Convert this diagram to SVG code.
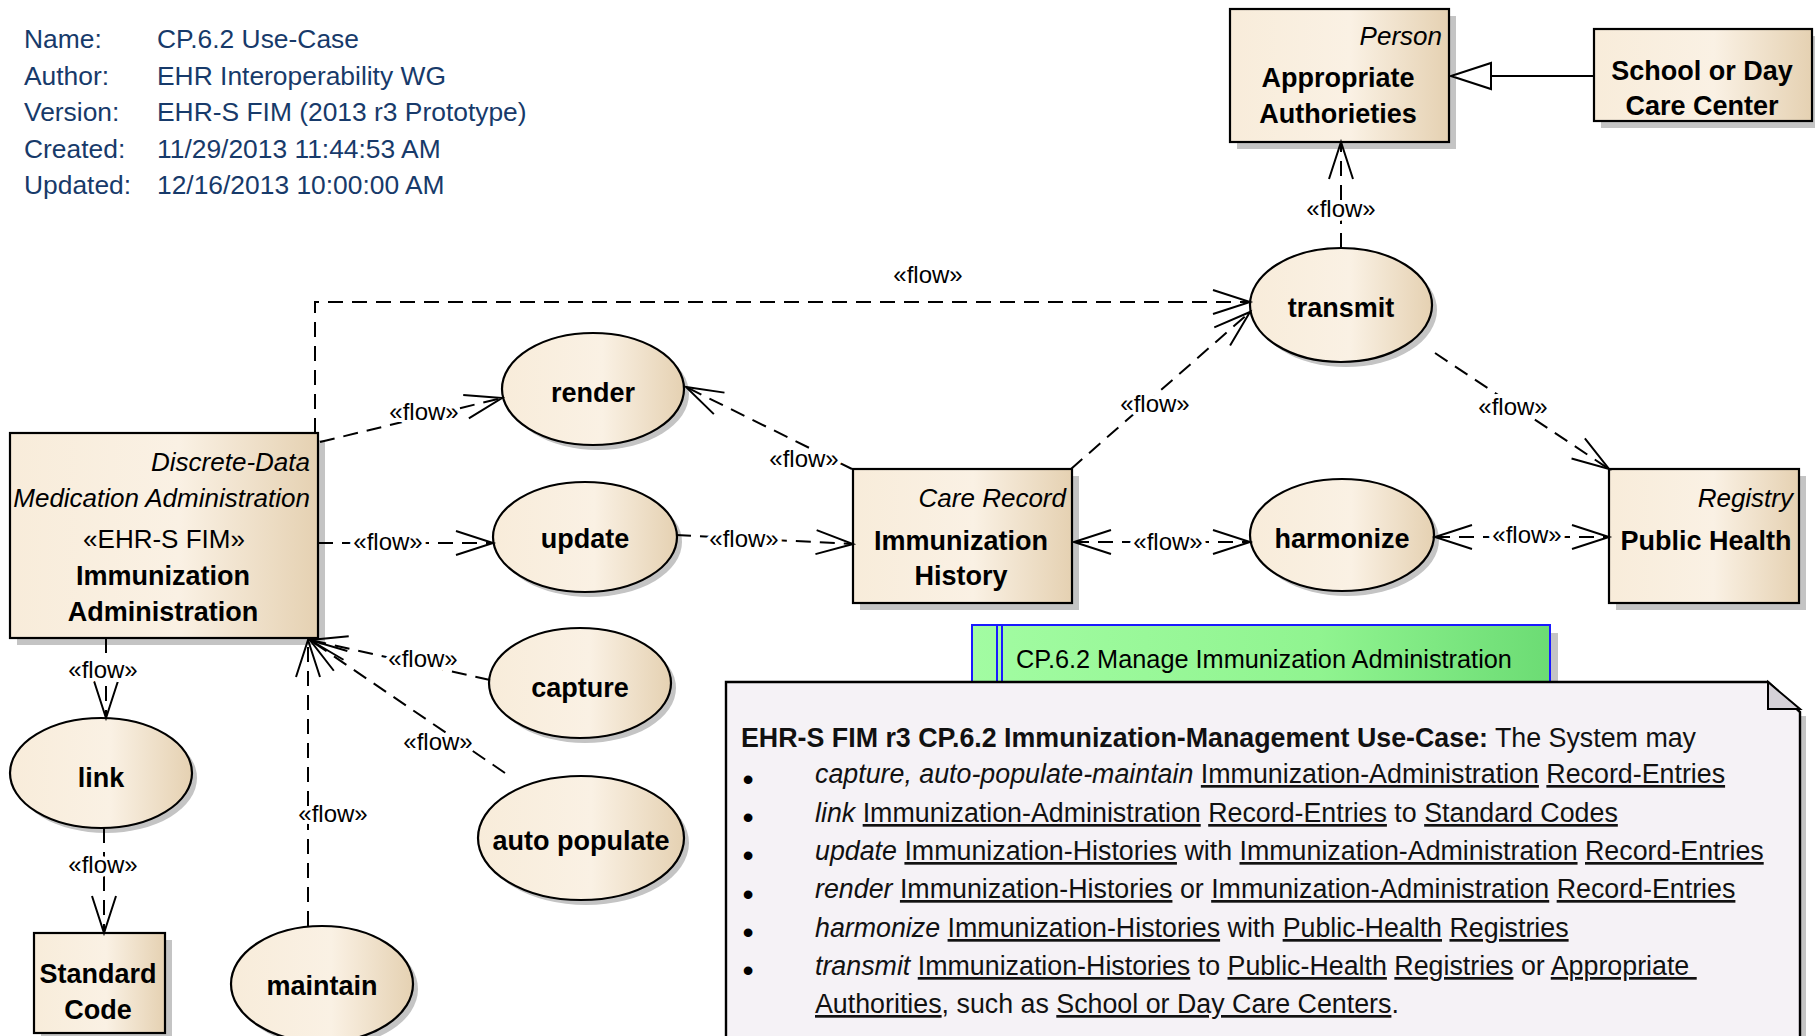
<svg xmlns="http://www.w3.org/2000/svg" width="1815" height="1036" viewBox="0 0 1815 1036">
<defs>
<linearGradient id="g" x1="0" y1="0" x2="1" y2="0">
<stop offset="0" stop-color="#F8ECDA"/>
<stop offset="0.55" stop-color="#FAF1E4"/>
<stop offset="1" stop-color="#E5D1B2"/>
</linearGradient>
<linearGradient id="gg" x1="0" y1="0" x2="1" y2="0">
<stop offset="0" stop-color="#A2FCA2"/>
<stop offset="0.6" stop-color="#90F490"/>
<stop offset="1" stop-color="#6CDC74"/>
</linearGradient>
<marker id="arr" markerUnits="userSpaceOnUse" markerWidth="50" markerHeight="40" refX="0" refY="0" orient="auto-start-reverse" overflow="visible">
<path d="M-37,-12 L0,0 L-37,12" fill="none" stroke="#000" stroke-width="2" stroke-dasharray="none"/>
</marker>
<marker id="gen" markerUnits="userSpaceOnUse" markerWidth="50" markerHeight="40" refX="0" refY="0" orient="auto" overflow="visible">
<path d="M0,0 L-40,-13 L-40,13 Z" fill="#FFFFFF" stroke="#000" stroke-width="2" stroke-dasharray="none"/>
</marker>
</defs>
<style>
.t{font-family:"Liberation Sans",Arial,sans-serif;fill:#000}
.box{fill:url(#g);stroke:#000;stroke-width:2.2}
.sh{fill:#C4C4C4}
.b{font-weight:bold;font-size:27px;text-anchor:middle}
.i{font-style:italic;font-size:26px;text-anchor:end}
.r{font-size:26px;text-anchor:middle}
.hd{font-family:"Liberation Sans",Arial,sans-serif;font-size:26.4px;fill:#173A6A}
.flow{font-family:"Liberation Sans",Arial,sans-serif;font-size:24px;text-anchor:middle;fill:#000;stroke:#fff;stroke-width:8;stroke-linejoin:round;paint-order:stroke}
.conn{fill:none;stroke:#000;stroke-width:2;stroke-dasharray:15 9}
.nt{font-family:"Liberation Sans",Arial,sans-serif;font-size:26.8px;fill:#111}
.u{text-decoration:underline}
.it{font-style:italic}
.bul{font-family:"Liberation Sans",Arial,sans-serif;font-size:32px;fill:#000;text-anchor:middle}
</style>
<rect width="1815" height="1036" fill="#fff"/>

<g id="header">
<text class="hd" x="24" y="48">Name:</text><text class="hd" x="157" y="48">CP.6.2 Use-Case</text>
<text class="hd" x="24" y="85">Author:</text><text class="hd" x="157" y="85">EHR Interoperability WG</text>
<text class="hd" x="24" y="121">Version:</text><text class="hd" x="157" y="121">EHR-S FIM (2013 r3 Prototype)</text>
<text class="hd" x="24" y="158">Created:</text><text class="hd" x="157" y="158">11/29/2013 11:44:53 AM</text>
<text class="hd" x="24" y="194">Updated:</text><text class="hd" x="157" y="194">12/16/2013 10:00:00 AM</text>
</g>

<g id="appropriate-authorities">
<rect class="sh" x="1237" y="16" width="219" height="133"/>
<rect class="box" x="1230" y="9" width="219" height="133"/>
<text class="t i" x="1442" y="45">Person</text>
<text class="t b" x="1338" y="87">Appropriate</text>
<text class="t b" x="1338" y="123">Authorieties</text>
</g>

<g id="school-day-care">
<rect class="sh" x="1601" y="36" width="218" height="92"/>
<rect class="box" x="1594" y="29" width="218" height="92"/>
<text class="t b" x="1702" y="80">School or Day</text>
<text class="t b" x="1702" y="115">Care Center</text>
</g>

<g id="transmit">
<ellipse class="sh" cx="1346" cy="310" rx="91" ry="57"/>
<ellipse class="box" cx="1341" cy="305" rx="91" ry="57"/>
<text class="t b" x="1341" y="317">transmit</text>
</g>

<g id="render">
<ellipse class="sh" cx="598" cy="394" rx="91" ry="56"/>
<ellipse class="box" cx="593" cy="389" rx="91" ry="56"/>
<text class="t b" x="593" y="402">render</text>
</g>

<g id="update">
<ellipse class="sh" cx="590" cy="542" rx="92" ry="55"/>
<ellipse class="box" cx="585" cy="537" rx="92" ry="55"/>
<text class="t b" x="585" y="548">update</text>
</g>

<g id="immunization-administration">
<rect class="sh" x="17" y="440" width="308" height="205"/>
<rect class="box" x="10" y="433" width="308" height="205"/>
<text class="t i" x="310" y="471">Discrete-Data</text>
<text class="t i" x="310" y="507">Medication Administration</text>
<text class="t r" x="164" y="548">«EHR-S FIM»</text>
<text class="t b" x="163" y="585">Immunization</text>
<text class="t b" x="163" y="621">Administration</text>
</g>

<g id="immunization-history">
<rect class="sh" x="860" y="476" width="219" height="134"/>
<rect class="box" x="853" y="469" width="219" height="134"/>
<text class="t i" x="1066" y="507">Care Record</text>
<text class="t b" x="961" y="550">Immunization</text>
<text class="t b" x="961" y="585">History</text>
</g>

<g id="harmonize">
<ellipse class="sh" cx="1347" cy="540" rx="92" ry="56"/>
<ellipse class="box" cx="1342" cy="535" rx="92" ry="56"/>
<text class="t b" x="1342" y="548">harmonize</text>
</g>

<g id="public-health">
<rect class="sh" x="1616" y="476" width="190" height="134"/>
<rect class="box" x="1609" y="469" width="190" height="134"/>
<text class="t i" x="1793" y="507">Registry</text>
<text class="t b" x="1706" y="550">Public Health</text>
</g>

<g id="capture">
<ellipse class="sh" cx="585" cy="688" rx="91" ry="55"/>
<ellipse class="box" cx="580" cy="683" rx="91" ry="55"/>
<text class="t b" x="580" y="697">capture</text>
</g>

<g id="auto-populate">
<ellipse class="sh" cx="586" cy="843" rx="103" ry="62"/>
<ellipse class="box" cx="581" cy="838" rx="103" ry="62"/>
<text class="t b" x="581" y="850">auto populate</text>
</g>

<g id="link">
<ellipse class="sh" cx="106" cy="778" rx="91" ry="55"/>
<ellipse class="box" cx="101" cy="773" rx="91" ry="55"/>
<text class="t b" x="101" y="787">link</text>
</g>

<g id="standard-code">
<rect class="sh" x="41" y="940" width="131" height="100"/>
<rect class="box" x="34" y="933" width="131" height="100"/>
<text class="t b" x="98" y="983">Standard</text>
<text class="t b" x="98" y="1019">Code</text>
</g>

<g id="maintain">
<ellipse class="sh" cx="327" cy="989" rx="91" ry="58"/>
<ellipse class="box" cx="322" cy="984" rx="91" ry="58"/>
<text class="t b" x="322" y="995">maintain</text>
</g>

<g id="cp62-tab">
<rect class="sh" x="980" y="633" width="578" height="70"/>
<rect x="972" y="625" width="578" height="75" fill="url(#gg)" stroke="#1A1AFF" stroke-width="2"/>
<line x1="997" y1="625" x2="997" y2="682" stroke="#1A1AFF" stroke-width="2"/>
<line x1="1002" y1="625" x2="1002" y2="682" stroke="#1A1AFF" stroke-width="2"/>
<text class="t" x="1016" y="668" font-size="25.3" fill="#111">CP.6.2 Manage Immunization Administration</text>
</g>

<g id="note">
<path d="M1806,716 V1040 H1800 V716 Z" fill="#C4C4C4"/>
<path d="M726,682 H1768 L1800,712 V1040 H726 Z" fill="#F5F2F6" stroke="#000" stroke-width="2.4"/>
<path d="M1768,682 V709 H1800 Z" fill="#D5D1D8" stroke="#000" stroke-width="2"/>
<text class="nt" x="741" y="747" xml:space="preserve"><tspan font-weight="bold">EHR-S FIM r3 CP.6.2 Immunization-Management Use-Case:</tspan> The System may</text>
<text class="bul" x="748" y="790">•</text>
<text class="bul" x="748" y="828">•</text>
<text class="bul" x="748" y="866">•</text>
<text class="bul" x="748" y="905">•</text>
<text class="bul" x="748" y="943">•</text>
<text class="bul" x="748" y="981">•</text>
<text class="nt" x="815" y="783" xml:space="preserve"><tspan class="it">capture, auto-populate-maintain</tspan> <tspan class="u">Immunization-Administration</tspan> <tspan class="u">Record-Entries</tspan></text>
<text class="nt" x="815" y="822" xml:space="preserve"><tspan class="it">link</tspan> <tspan class="u">Immunization-Administration</tspan> <tspan class="u">Record-Entries</tspan> to <tspan class="u">Standard Codes</tspan></text>
<text class="nt" x="815" y="860" xml:space="preserve"><tspan class="it">update</tspan> <tspan class="u">Immunization-Histories</tspan> with <tspan class="u">Immunization-Administration</tspan> <tspan class="u">Record-Entries</tspan></text>
<text class="nt" x="815" y="898" xml:space="preserve"><tspan class="it">render</tspan> <tspan class="u">Immunization-Histories</tspan> or <tspan class="u">Immunization-Administration</tspan> <tspan class="u">Record-Entries</tspan></text>
<text class="nt" x="815" y="937" xml:space="preserve"><tspan class="it">harmonize</tspan> <tspan class="u">Immunization-Histories</tspan> with <tspan class="u">Public-Health</tspan> <tspan class="u">Registries</tspan></text>
<text class="nt" x="815" y="975" xml:space="preserve"><tspan class="it">transmit</tspan> <tspan class="u">Immunization-Histories</tspan> to <tspan class="u">Public-Health</tspan> <tspan class="u">Registries</tspan> or <tspan class="u">Appropriate </tspan></text>
<text class="nt" x="815" y="1013" xml:space="preserve"><tspan class="u">Authorities</tspan>, such as <tspan class="u">School or Day Care Centers</tspan>.</text>
</g>

<g id="connectors">
<path class="conn" d="M315,433 V302 H1250" marker-end="url(#arr)"/>
<path class="conn" d="M320,442 L502,398" marker-end="url(#arr)"/>
<path class="conn" d="M852,469 L686,387" marker-end="url(#arr)"/>
<path class="conn" d="M318,543 L493,543" marker-end="url(#arr)"/>
<path class="conn" d="M676,535 L853,544" marker-end="url(#arr)"/>
<path class="conn" d="M1074,542 L1250,542" marker-start="url(#arr)" marker-end="url(#arr)"/>
<path class="conn" d="M1435,537 L1609,537" marker-start="url(#arr)" marker-end="url(#arr)"/>
<path class="conn" d="M1071,469 L1250,312" marker-end="url(#arr)"/>
<path class="conn" d="M1341,248 L1341,142" marker-end="url(#arr)"/>
<path class="conn" d="M1435,353 L1609,469" marker-end="url(#arr)"/>
<path class="conn" d="M106,638 L106,718" marker-end="url(#arr)"/>
<path class="conn" d="M104,828 L104,933" marker-end="url(#arr)"/>
<path class="conn" d="M308,926 L308,640" marker-end="url(#arr)"/>
<path class="conn" d="M490,680 L310,640" marker-end="url(#arr)"/>
<path class="conn" d="M505,773 L310,640" marker-end="url(#arr)"/>
<path d="M1593,76 L1451,76" fill="none" stroke="#000" stroke-width="2" marker-end="url(#gen)"/>
<text class="flow" x="928" y="283">«flow»</text>
<text class="flow" x="424" y="420">«flow»</text>
<text class="flow" x="804" y="467">«flow»</text>
<text class="flow" x="388" y="550">«flow»</text>
<text class="flow" x="744" y="547">«flow»</text>
<text class="flow" x="1168" y="550">«flow»</text>
<text class="flow" x="1527" y="543">«flow»</text>
<text class="flow" x="1155" y="412">«flow»</text>
<text class="flow" x="1341" y="217">«flow»</text>
<text class="flow" x="1513" y="415">«flow»</text>
<text class="flow" x="103" y="678">«flow»</text>
<text class="flow" x="103" y="873">«flow»</text>
<text class="flow" x="333" y="822">«flow»</text>
<text class="flow" x="423" y="667">«flow»</text>
<text class="flow" x="438" y="750">«flow»</text>
</g>
</svg>
